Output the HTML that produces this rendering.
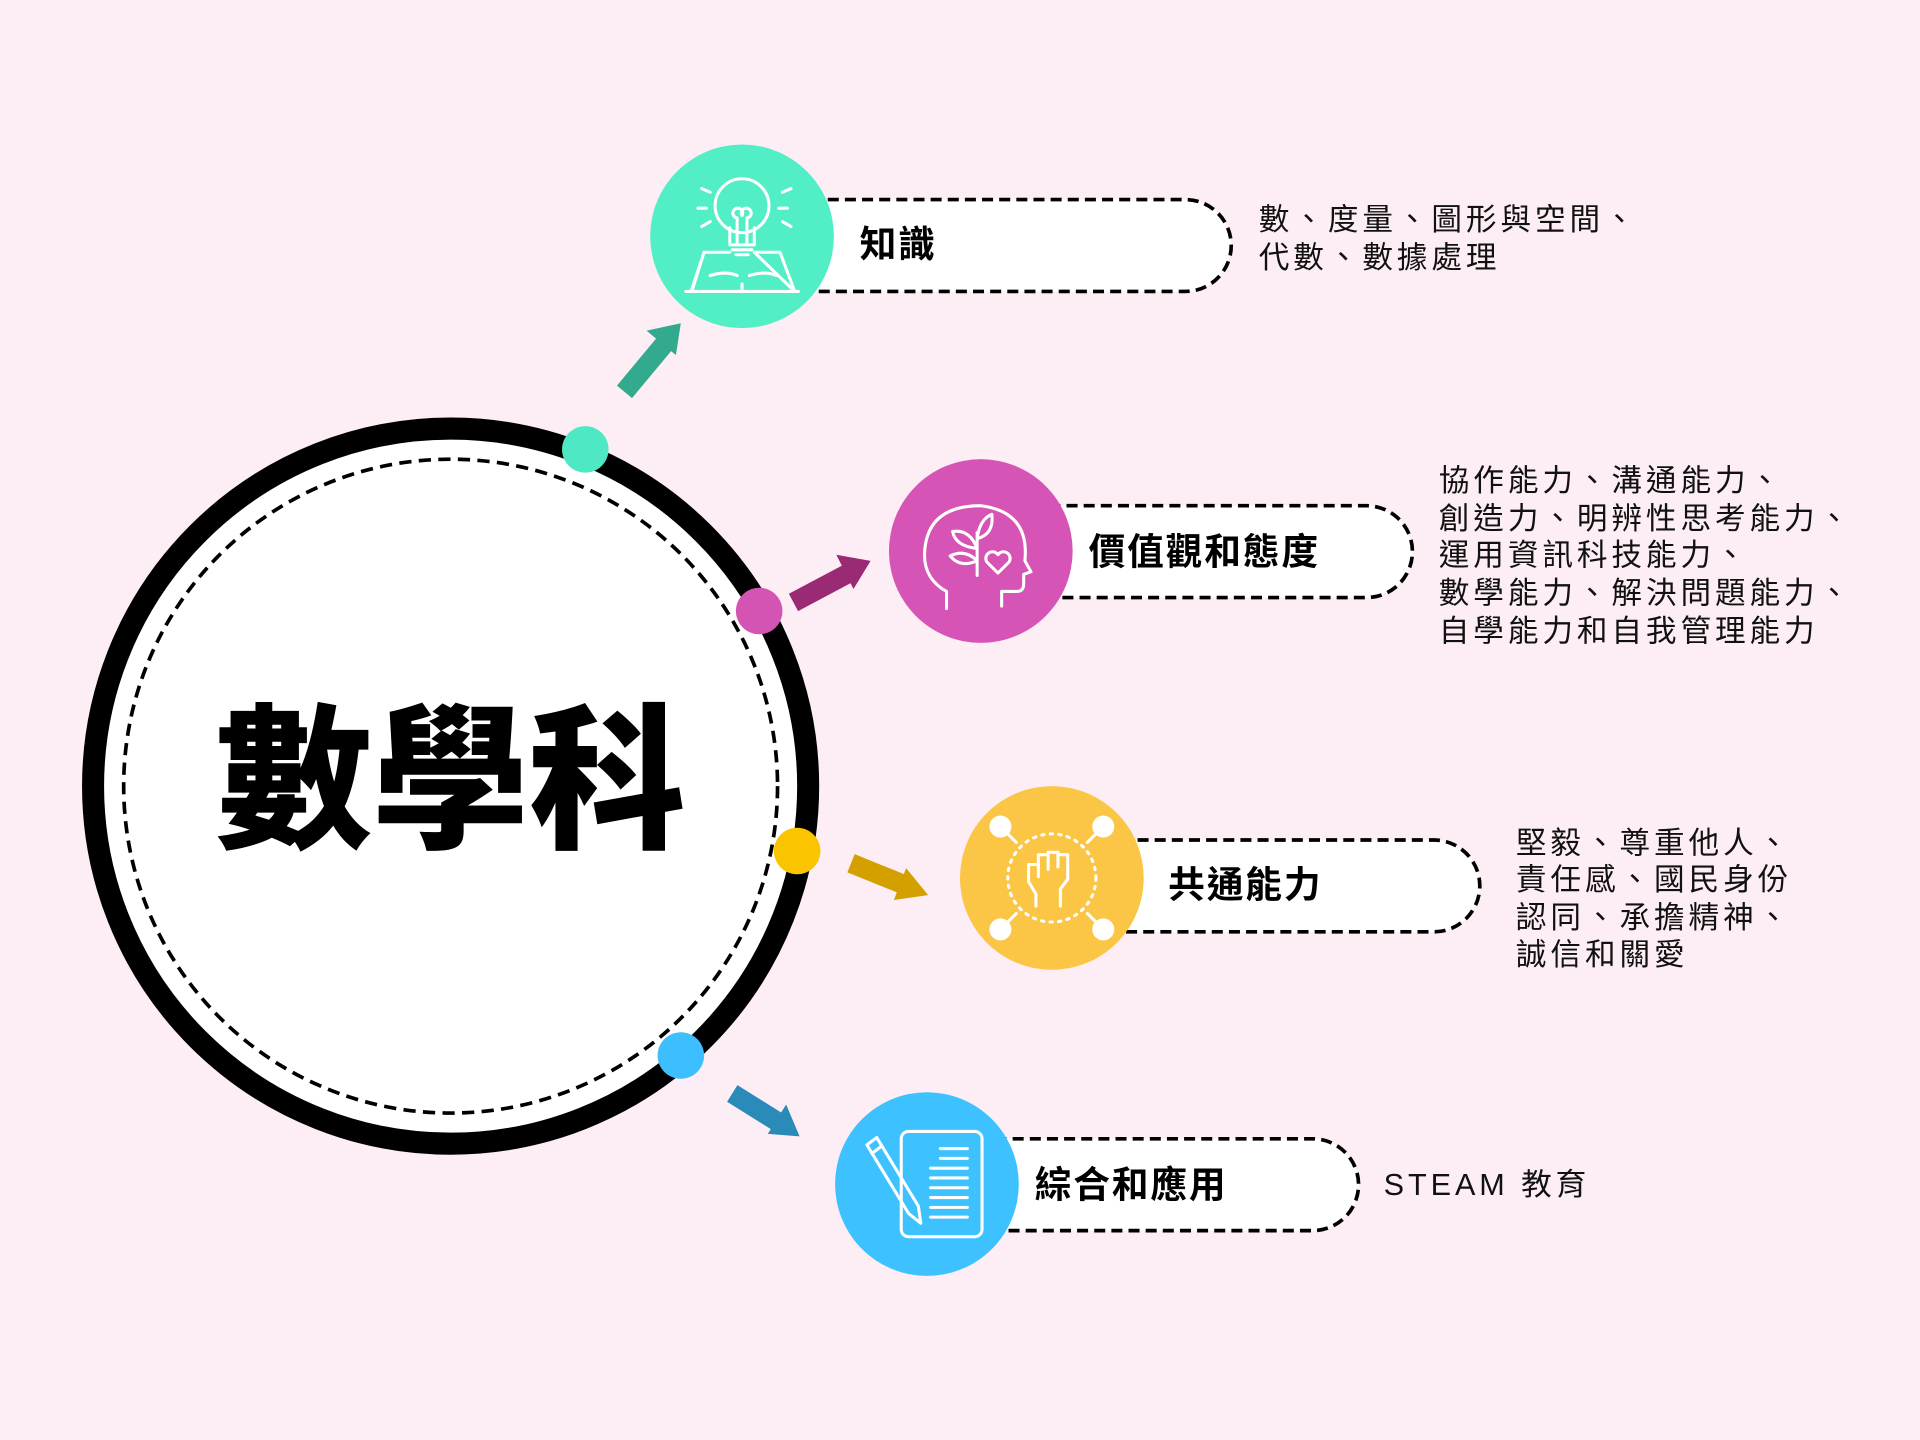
<!DOCTYPE html>
<html><head><meta charset="utf-8"><style>
html,body{margin:0;padding:0;background:#fdeef6;}
svg{display:block}
text{font-family:"Liberation Sans","Noto Sans CJK TC",sans-serif;}
.lbl{font-weight:bold;font-size:30px;fill:#000;dominant-baseline:middle;letter-spacing:1.5px}
.d{font-size:25px;fill:#111;letter-spacing:3.2px}
.ic{fill:none;stroke:#fff;stroke-width:2.5;stroke-linecap:round;stroke-linejoin:round}
</style></head><body>
<svg width="1920" height="1440" viewBox="0 0 1568 1176" xmlns="http://www.w3.org/2000/svg">
<rect width="1568" height="1176" fill="#fdeef6"/>
<circle cx="368" cy="642" r="292" fill="#fff" stroke="#000" stroke-width="18"/>
<circle cx="368" cy="642" r="267" fill="none" stroke="#000" stroke-width="3" stroke-dasharray="10 6"/>
<text x="368" y="648" text-anchor="middle" dominant-baseline="middle" font-size="128" fill="#000" style="font-family:'Noto Sans CJK TC',sans-serif;font-weight:900">數學科</text>
<circle cx="478" cy="367" r="19" fill="#4ee8c4"/>
<circle cx="620" cy="499" r="19" fill="#d454b4"/>
<circle cx="651" cy="695" r="19" fill="#fbc400"/>
<circle cx="556" cy="862" r="19" fill="#3dbfff"/>
<g stroke-linecap="butt">
<line x1="510" y1="320" x2="545" y2="278" stroke="#33aa8e" stroke-width="16"/>
<polygon points="556,264 528,270 552,290" fill="#33aa8e"/>
<line x1="648" y1="492" x2="695" y2="467" stroke="#9b2a74" stroke-width="16"/>
<polygon points="711,458 683,453 697,481" fill="#9b2a74"/>
<line x1="695" y1="705" x2="742" y2="724" stroke="#d4a000" stroke-width="16"/>
<polygon points="758,731 740,709 730,735" fill="#d4a000"/>
<line x1="598" y1="893" x2="638" y2="918" stroke="#2a8ab8" stroke-width="16"/>
<polygon points="653,928 642,902 627,926" fill="#2a8ab8"/>
</g>
<g fill="#fff" stroke="#000" stroke-width="3" stroke-dasharray="9 5">
<path d="M606 163 H968 A37.5 37.5 0 0 1 968 238 H606 Z"/>
<path d="M801 413 H1116 A37.5 37.5 0 0 1 1116 488 H801 Z"/>
<path d="M859 686 H1171 A37.5 37.5 0 0 1 1171 761 H859 Z"/>
<path d="M757 930 H1072 A37.5 37.5 0 0 1 1072 1005 H757 Z"/>
</g>
<circle cx="606" cy="193" r="75" fill="#52eec6"/>
<circle cx="801" cy="450" r="75" fill="#d554b5"/>
<circle cx="859" cy="717" r="75" fill="#fbc545"/>
<circle cx="757" cy="967" r="75" fill="#3dc1ff"/>
<g class="ic">
<circle cx="606" cy="168" r="22"/>
<path d="M596 186 V200 H616 V186"/><path d="M598 204 H614 M601 208 H611"/>
<path d="M602 200 V178 M610 200 V178 M602 178 a4 4 0 1 1 4 -2 a4 4 0 1 1 4 2"/>
<path d="M573 154 l7 3 M639 157 l7 -3 M570 170 h7 M636 170 h7 M573 185 l7 -4 M639 181 l7 4"/>
<path d="M565 238 L575 206 H596 M616 206 H637 L649 238 Z M606 232 V238 M575 206 L565 236 M560 238 H652"/>
<path d="M580 225 q13 -4 22 0 M612 225 q13 -4 22 0"/>
</g>
<g class="ic">
<path d="M818 495 v-12 h12 q6 0 6 -6 v-8 l6 -2 l-5 -9 q4 -40 -36 -45 q-45 0 -46 40 q0 20 18 30 v14"/>
<path d="M798 470 v-35 M798 448 q-18 -2 -20 -14 q14 -2 20 14 M798 440 q2 -16 12 -20 q2 16 -12 20 M798 458 q-14 6 -22 -4 q12 -6 22 4"/>
<path d="M815 468 l-9 -9 a5 5 0 0 1 9 -6 a5 5 0 0 1 9 6 z"/>
</g>
<g class="ic">
<circle cx="859" cy="717" r="36" stroke-dasharray="2 5"/>
<path d="M846 740 v-10 l-6 -10 v-14 h8 v-8 h8 v-2 h8 v2 h8 v20 l-6 8 v14"/>
<path d="M848 706 v10 M856 698 v12 M864 696 v12"/>
<path d="M830 688 l-12 -12 M888 688 l12 -12 M830 746 l-12 12 M888 746 l12 12"/>
</g>
<g fill="#fff"><circle cx="817" cy="675" r="9"/><circle cx="901" cy="675" r="9"/><circle cx="817" cy="759" r="9"/><circle cx="901" cy="759" r="9"/></g>
<g class="ic">
<rect x="736" y="924" width="66" height="86" rx="6"/>
<path d="M768 938 h22 M768 946 h22 M760 954 h30 M760 962 h30 M760 970 h30 M760 978 h30 M760 986 h30 M760 994 h30"/>
<path d="M708 935 l8 -6 l34 56 l2 14 l-10 -8 z M712 942 l8 -6"/>
</g>
<text class="lbl" x="702" y="202">知識</text>
<text class="lbl" x="889" y="453">價值觀和態度</text>
<text class="lbl" x="954" y="725">共通能力</text>
<text class="lbl" x="845" y="970">綜合和應用</text>
<text class="d" x="1028" y="188">數、度量、圖形與空間、</text>
<text class="d" x="1028" y="219">代數、數據處理</text>
<text class="d" x="1175" y="401">協作能力、溝通能力、</text>
<text class="d" x="1175" y="432">創造力、明辨性思考能力、</text>
<text class="d" x="1175" y="462">運用資訊科技能力、</text>
<text class="d" x="1175" y="493">數學能力、解決問題能力、</text>
<text class="d" x="1175" y="524">自學能力和自我管理能力</text>
<text class="d" x="1238" y="697">堅毅、尊重他人、</text>
<text class="d" x="1238" y="727">責任感、國民身份</text>
<text class="d" x="1238" y="758">認同、承擔精神、</text>
<text class="d" x="1238" y="788">誠信和關愛</text>
<text class="d" x="1130" y="976">STEAM 教育</text>
</svg>
</body></html>
